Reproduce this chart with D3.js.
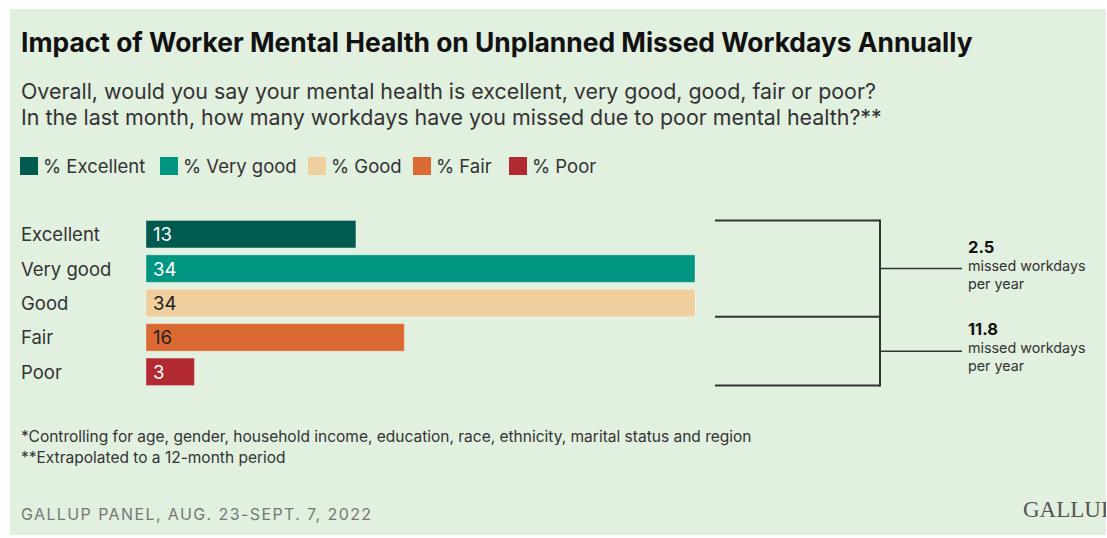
<!DOCTYPE html>
<html>
<head>
<meta charset="utf-8">
<script src="https://cdn.jsdelivr.net/npm/d3@7"></script>
<style>
  html, body { margin: 0; padding: 0; background: #ffffff; }
  svg { display: block; }
  text { font-family: Inter, "Noto Sans", sans-serif; }
</style>
</head>
<body>
<svg id="chart" width="1107" height="538"></svg>
<script>
// Mental health ratings and share of workers (%)
const categories = ["Excellent", "Very good", "Good", "Fair", "Poor"];
const shares = [13, 34, 34, 16, 3];
const legendLabels = ["% Excellent", "% Very good", "% Good", "% Fair", "% Poor"];
const barColors = ["#005a4e", "#009681", "#f0cf9e", "#db6a32", "#b12a32"];
const valueTextColors = ["#ffffff", "#ffffff", "#222222", "#222222", "#ffffff"];

// Annual missed workdays for the two grouped ratings
const groups = [
  { from: "Excellent", to: "Good", days: 2.5 },
  { from: "Good", to: "Poor", days: 11.8 }
];

const svg = d3.select("#chart");

// Panel background
const panel = { x: 10, y: 9, w: 1096, h: 526 };
svg.append("defs").append("clipPath").attr("id", "panelClip")
  .append("rect").attr("x", panel.x).attr("y", panel.y).attr("width", panel.w).attr("height", panel.h);
svg.append("rect").attr("x", panel.x).attr("y", panel.y).attr("width", panel.w).attr("height", panel.h)
  .attr("fill", "#e2f0e0");

const root = svg.append("g").attr("clip-path", "url(#panelClip)");

// Title and questions
root.append("text").attr("x", 21).attr("y", 52)
  .attr("font-size", 26.4).attr("font-weight", 700).attr("fill", "#111")
  .text("Impact of Worker Mental Health on Unplanned Missed Workdays Annually");

const q = ["Overall, would you say your mental health is excellent, very good, good, fair or poor?",
           "In the last month, how many workdays have you missed due to poor mental health?**"];
root.selectAll("text.q").data(q).join("text").attr("class", "q")
  .attr("x", 21).attr("y", (d, i) => 99 + i * 26)
  .attr("font-size", 21.4).attr("fill", "#333").text(d => d);

// Legend
const legendX = [20, 160, 308, 413, 509];
const lg = root.selectAll("g.lg").data(legendLabels).join("g").attr("class", "lg")
  .attr("transform", (d, i) => `translate(${legendX[i]},157)`);
lg.append("rect").attr("width", 18).attr("height", 18)
  .attr("fill", (d, i) => barColors[i]);
lg.append("text").attr("x", 23).attr("y", 16).attr("font-size", 18.5).attr("fill", "#333")
  .text(d => d);

// Bars
const x = d3.scaleLinear().domain([0, 34]).range([146, 695]);
const y = d3.scaleBand().domain(categories).range([217, 389]).paddingInner(0.2).paddingOuter(0.1);

root.selectAll("rect.bar").data(shares).join("rect").attr("class", "bar")
  .attr("x", x(0)).attr("y", (d, i) => y(categories[i]))
  .attr("width", d => x(d) - x(0)).attr("height", y.bandwidth())
  .attr("fill", (d, i) => barColors[i])
  .attr("stroke", "rgba(255,255,255,0.35)").attr("stroke-width", 1);

root.selectAll("text.val").data(shares).join("text").attr("class", "val")
  .attr("x", x(0) + 7).attr("y", (d, i) => y(categories[i]) + y.bandwidth() / 2 + 7)
  .attr("font-size", 18.5).attr("fill", (d, i) => valueTextColors[i]).text(d => d);

root.selectAll("text.cat").data(categories).join("text").attr("class", "cat")
  .attr("x", 21).attr("y", d => y(d) + y.bandwidth() / 2 + 7)
  .attr("font-size", 18.5).attr("fill", "#333").text(d => d);

// Bracket joining the rating groups
const bx0 = 715, bx1 = 880, bx2 = 962;
const yTop = d => y(d);
const yBot = d => y(d) + y.bandwidth();
const bracketYs = [yTop("Excellent"), yBot("Good"), yBot("Poor")];
const line = root.append("g").attr("stroke", "#333").attr("stroke-width", 2).attr("fill", "none");
bracketYs.forEach(v => line.append("line").attr("x1", bx0).attr("x2", bx1).attr("y1", v).attr("y2", v));
line.append("line").attr("x1", bx1).attr("x2", bx1).attr("y1", bracketYs[0] - 1).attr("y2", bracketYs[2] + 1);

const mids = [ (bracketYs[0] + bracketYs[1]) / 2, (bracketYs[1] + bracketYs[2]) / 2 ];
mids.forEach((m, i) => {
  line.append("line").attr("x1", bx1).attr("x2", bx2).attr("y1", m).attr("y2", m)
    .attr("stroke-width", 1.5);
  const g = root.append("g").attr("transform", `translate(968,${m})`);
  g.append("text").attr("y", -16).attr("font-size", 16.5).attr("font-weight", 700).attr("fill", "#111")
    .text(groups[i].days);
  g.append("text").attr("y", 2).attr("font-size", 14.3).attr("fill", "#333").text("missed workdays");
  g.append("text").attr("y", 20).attr("font-size", 14.3).attr("fill", "#333").text("per year");
});

// Footnotes and source
const notes = ["*Controlling for age, gender, household income, education, race, ethnicity, marital status and region",
               "**Extrapolated to a 12-month period"];
root.selectAll("text.note").data(notes).join("text").attr("class", "note")
  .attr("x", 21).attr("y", (d, i) => 442 + i * 21)
  .attr("font-size", 15.5).attr("fill", "#333").text(d => d);

root.append("text").attr("x", 21).attr("y", 520)
  .attr("font-size", 16).attr("letter-spacing", 1.4).attr("fill", "#777")
  .text("GALLUP PANEL, AUG. 23-SEPT. 7, 2022");

root.append("text").attr("x", 1023).attr("y", 517)
  .attr("font-size", 23).attr("fill", "#555")
  .style("font-family", "'Liberation Serif', 'DejaVu Serif', serif")
  .text("GALLUP");
</script>
</body>
</html>
